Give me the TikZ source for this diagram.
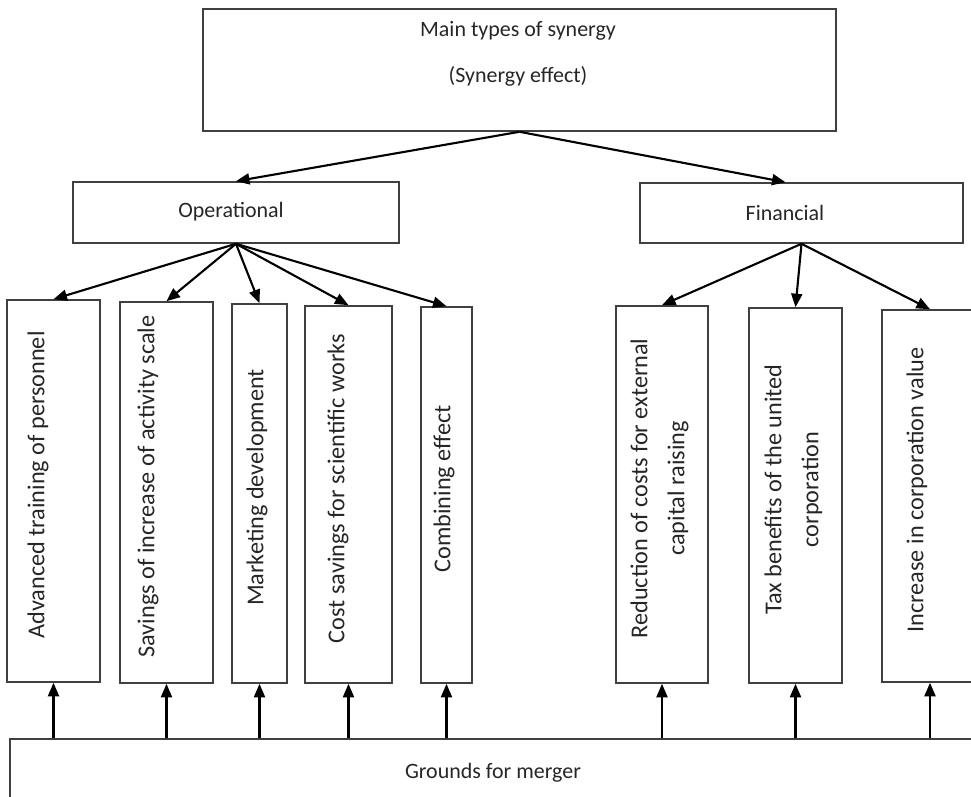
\documentclass[tikz,border=0pt]{standalone}
\usepackage{fontspec}
\setmainfont{Carlito}
\usetikzlibrary{arrows.meta,fit}

\tikzset{
  box/.style={draw=black!75, line width=0.9pt, inner sep=0pt},
  vtext/.style={rotate=90, anchor=north, inner sep=0pt, align=center,
    font=\fontsize{13.8}{21}\selectfont},
  arr/.style={-{Triangle[length=2.7mm,width=2.2mm]}, line width=1.2pt},
}

\begin{document}
\begin{tikzpicture}[x=0.02cm, y=-0.02cm, font=\fontsize{12.5}{15}\selectfont, text=black!85]
\useasboundingbox (0,0) rectangle (971,797);
\clip (0,0) rectangle (971,797);
\node[box, fit={(203,9) (836,131)}] (main) {};
\node[align=center] (maintxt) at (518,54) {Main types of synergy\\[11pt](Synergy effect)};
\node[box, fit={(73,182) (399,243)}] (op) {};
\node (optxt) at (231,212) {Operational};
\node[box, fit={(640,183) (963,243)}] (fin) {};
\node (fintxt) at (785,213) {Financial};
\node[box, fit={(7,300) (100,682)}] (b1) {};
\node[box, fit={(120,302) (213,683)}] (b2) {};
\node[box, fit={(232,304) (287,683)}] (b3) {};
\node[box, fit={(305,306) (392,683)}] (b4) {};
\node[box, fit={(421,307) (472,683)}] (b5) {};
\node[box, fit={(616,306) (708,683)}] (b6) {};
\node[box, fit={(749,308) (842,683)}] (b7) {};
\node[box, fit={(882,310) (978,682)}] (b8) {};
\node[box, fit={(10,739) (980,807)}] (gr) {};
\node (grtxt) at (493,773) {Grounds for merger};
\node[vtext] at ([xshift=0.42cm,yshift=0.12cm]b1.west) {Advanced training of personnel};
\node[vtext] at ([xshift=0.36cm,yshift=0.12cm]b2.west) {Savings of increase of activity scale};
\node[vtext] at ([xshift=0.3cm,yshift=0.12cm]b3.west) {Marketing development};
\node[vtext] at ([xshift=0.46cm,yshift=0.12cm]b4.west) {Cost savings for scientific works};
\node[vtext] at ([xshift=0.26cm,yshift=0.12cm]b5.west) {Combining effect};
\node[vtext] at ([xshift=0.3cm,yshift=0.12cm]b6.west) {Reduction of costs for external\\capital raising};
\node[vtext] at ([xshift=0.32cm,yshift=0.12cm]b7.west) {Tax benefits of the united\\corporation};
\node[vtext] at ([xshift=0.5cm,yshift=0.12cm]b8.west) {Increase in corporation value};
\draw[arr] (main.south) -- (op.north);
\draw[arr] (main.south) -- ([xshift=-0.32cm]fin.north);
\foreach \i in {1,...,5}
  \draw[arr] (op.south) -- (b\i.north);
\foreach \i in {6,7,8}
  \draw[arr] (fin.south) -- (b\i.north);
\foreach \i in {1,...,8}
  \draw[arr] (b\i.south |- gr.north) -- (b\i.south);
\end{tikzpicture}
\end{document}
